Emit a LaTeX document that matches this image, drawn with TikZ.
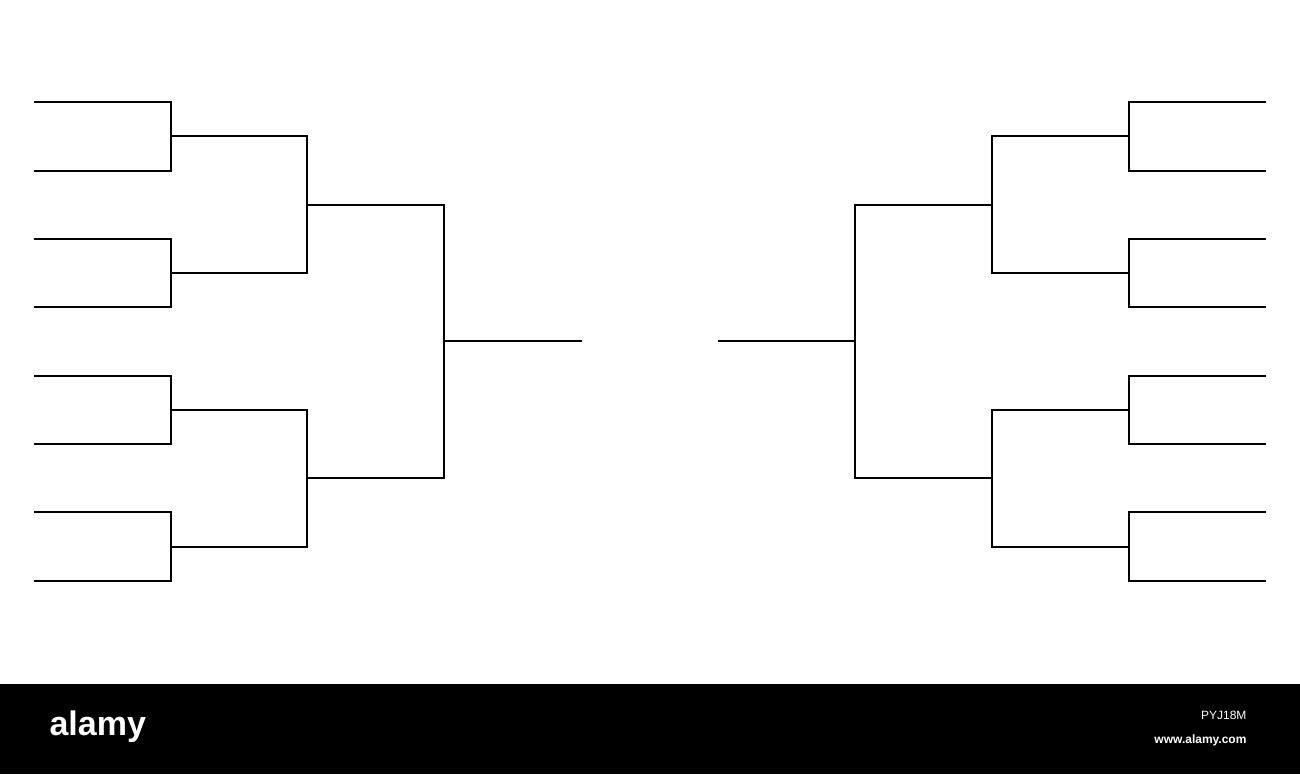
\documentclass[tikz,border=0pt]{standalone}
\usepackage{fontspec}
\setmainfont{Liberation Sans}
\begin{document}
\begin{tikzpicture}[x=1pt,y=-1pt,br/.style={line width=1.6pt,line cap=rect}]
\useasboundingbox (0,0) rectangle (1300,774);
\fill[white] (0,0) rectangle (1300,684);
% left side
\foreach \a/\b in {102/171,239/307,376/444,512/581}{
  \draw[br] (35,\a) -- (171,\a) -- (171,\b) -- (35,\b);
  \draw[br] (1265,\a) -- (1129,\a) -- (1129,\b) -- (1265,\b);
}
\foreach \a/\b in {136/273,410/547}{
  \draw[br] (171,\a) -- (307,\a) -- (307,\b) -- (171,\b);
  \draw[br] (1129,\a) -- (992,\a) -- (992,\b) -- (1129,\b);
}
\draw[br] (307,205) -- (444,205) -- (444,478) -- (307,478);
\draw[br] (992,205) -- (855,205) -- (855,478) -- (992,478);
\draw[br] (444,341) -- (581,341);
\draw[br] (855,341) -- (719,341);
% watermark bar
\fill[black] (0,684) rectangle (1300,774);
\node[white,font=\bfseries\fontsize{34}{34}\selectfont,anchor=west] (logo) at (46,727) {alamy};
\node[white,font=\fontsize{12}{12}\selectfont,anchor=east] (id) at (1250,715) {PYJ18M};
\node[white,font=\bfseries\fontsize{12}{12}\selectfont,anchor=east] (url) at (1250,740) {www.alamy.com};
\end{tikzpicture}
\end{document}
